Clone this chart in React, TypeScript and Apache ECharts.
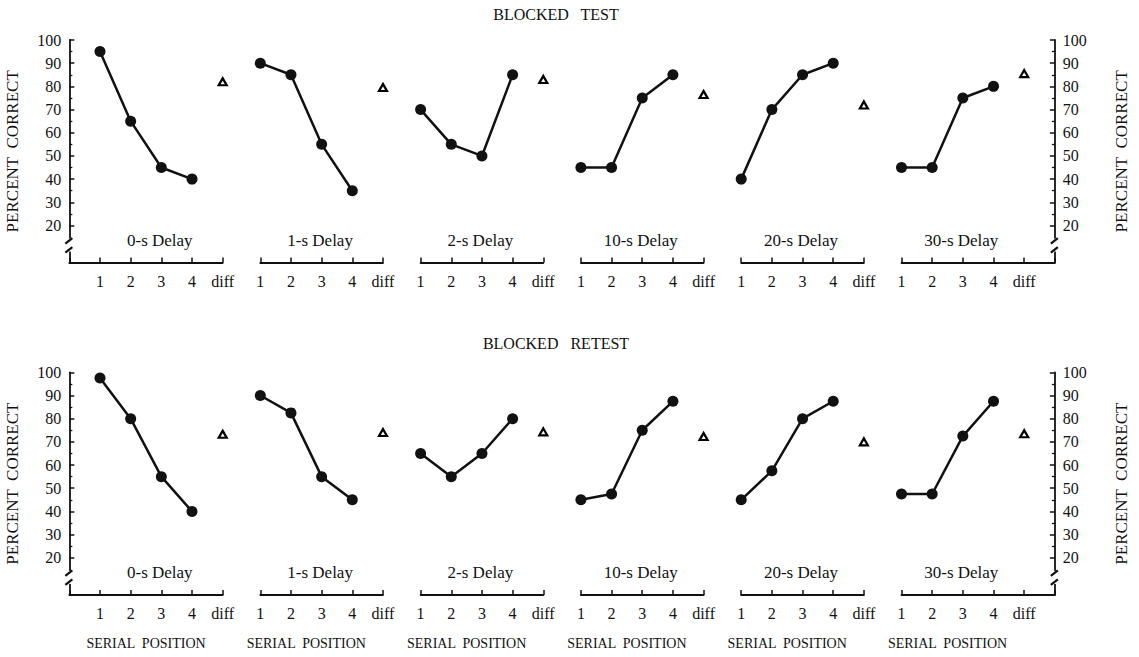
import { useEffect, useRef } from "react";
import * as echarts from "echarts";

// Serial positions 1-4 plus the "diff" condition at x = 5
const positions = [1, 2, 3, 4];
const diffPosition = 5;
const positionLabels = ["1", "2", "3", "4", "diff"];
const delayLabels = ["0-s Delay", "1-s Delay", "2-s Delay", "10-s Delay", "20-s Delay", "30-s Delay"];

// Percent correct, blocked test
const testSerial = [
  [95, 65, 45, 40],
  [90, 85, 55, 35],
  [70, 55, 50, 85],
  [45, 45, 75, 85],
  [40, 70, 85, 90],
  [45, 45, 75, 80],
];
const testDiff = [82, 79.5, 83, 76.5, 72, 85.5];

// Percent correct, blocked retest
const retestSerial = [
  [97.5, 80, 55, 40],
  [90, 82.5, 55, 45],
  [65, 55, 65, 80],
  [45, 47.5, 75, 87.5],
  [45, 57.5, 80, 87.5],
  [47.5, 47.5, 72.5, 87.5],
];
const retestDiff = [73.3, 74, 74.3, 72.3, 70, 73.5];

const yTickValues = [20, 30, 40, 50, 60, 70, 80, 90, 100];
const yMinorValues = [25, 35, 45, 55, 65, 75, 85, 95];
const rowTitles = ["BLOCKED   TEST", "BLOCKED   RETEST"];
const xAxisTitle = "SERIAL  POSITION";
const yAxisTitle = "PERCENT  CORRECT";

const rows = [
  { serial: testSerial, diff: testDiff },
  { serial: retestSerial, diff: retestDiff },
];

// Layout
const FONT = "Liberation Serif, serif";
const INK = "#111111";
const FIRST_X = 100;
const PANEL_STEP = 160.3;
const UNIT = 30.67;
const ROW_TOP = [40, 372.3];
const ROW_TITLE_Y = [14, 343];
const ROW_H = 222.6;
const Y_MIN = 4;
const Y_MAX = 100;
const PANELS = 6;

export default function App() {
  const ref = useRef<HTMLDivElement>(null);

  useEffect(() => {
    if (!ref.current) return;
    const chart = echarts.init(ref.current, null, { renderer: "svg" });

    const grids: any[] = [];
    const xAxes: any[] = [];
    const yAxes: any[] = [];
    const series: any[] = [];
    const majorY: number[] = [];

    rows.forEach((row, r) => {
      for (let p = 0; p < PANELS; p++) {
        const g = r * PANELS + p;
        const xMin = p === 0 ? 0 : 1;
        const xMax = p === PANELS - 1 ? 6 : 5;
        grids.push({
          left: FIRST_X + p * PANEL_STEP + (xMin - 1) * UNIT,
          width: (xMax - xMin) * UNIT,
          top: ROW_TOP[r],
          height: ROW_H,
        });
        xAxes.push({
          gridIndex: g,
          type: "value",
          min: xMin,
          max: xMax,
          interval: 1,
          axisLine: { show: true, onZero: false, lineStyle: { color: INK, width: 1.8 } },
          axisTick: { show: true, inside: true, length: 5, lineStyle: { color: INK, width: 1.5 } },
          axisLabel: {
            margin: 11,
            color: INK,
            fontFamily: FONT,
            fontSize: 16,
            showMinLabel: true,
            showMaxLabel: true,
            formatter: (v: number) => (v >= 1 && v <= 5 ? positionLabels[v - 1] : ""),
          },
          splitLine: { show: false },
        });

        const edge = p === 0 || p === PANELS - 1;
        const side = p === 0 ? "left" : "right";
        majorY[g] = yAxes.length;
        if (edge) {
          yAxes.push({
            gridIndex: g,
            type: "value",
            min: Y_MIN,
            max: Y_MAX,
            position: side,
            axisLine: { show: true, onZero: false, lineStyle: { color: INK, width: 1.8 } },
            axisTick: { show: true, inside: true, length: 5, customValues: yTickValues, lineStyle: { color: INK, width: 1.5 } },
            axisLabel: { customValues: yTickValues, margin: 8, color: INK, fontFamily: FONT, fontSize: 16 },
            splitLine: { show: false },
            name: yAxisTitle,
            nameLocation: "middle",
            nameRotate: 90,
            nameGap: p === 0 ? 48 : 58,
            nameTextStyle: { color: INK, fontFamily: FONT, fontSize: 17 },
          });
          yAxes.push({
            gridIndex: g,
            type: "value",
            min: Y_MIN,
            max: Y_MAX,
            position: side,
            axisLine: { show: false },
            axisTick: { show: true, inside: true, length: 3, customValues: yMinorValues, lineStyle: { color: INK, width: 1.3 } },
            axisLabel: { show: false },
            splitLine: { show: false },
          });
        } else {
          yAxes.push({ gridIndex: g, type: "value", min: Y_MIN, max: Y_MAX, show: false, splitLine: { show: false } });
        }

        series.push({
          type: "line",
          xAxisIndex: g,
          yAxisIndex: majorY[g],
          data: positions.map((x, i) => [x, row.serial[p][i]]),
          symbol: "circle",
          symbolSize: 11,
          lineStyle: { color: INK, width: 2.5 },
          itemStyle: { color: INK },
          z: 3,
        });
        series.push({
          type: "scatter",
          xAxisIndex: g,
          yAxisIndex: majorY[g],
          data: [[diffPosition, row.diff[p]]],
          symbol: "triangle",
          symbolSize: [8, 7],
          itemStyle: { color: "#ffffff", borderColor: "#000000", borderWidth: 2.2, opacity: 1 },
          z: 3,
        });
      }
    });

    chart.setOption({
      animation: false,
      backgroundColor: "#ffffff",
      textStyle: { fontFamily: FONT },
      grid: grids,
      xAxis: xAxes,
      yAxis: yAxes,
      series,
    });

    // Decorations placed through the axes' own scales
    const graphic: any[] = [];
    const textStyle = (size: number) => ({ fill: INK, fontFamily: FONT, fontSize: size });
    rowTitles.forEach((t, r) => {
      graphic.push({
        type: "text",
        x: 556,
        y: ROW_TITLE_Y[r],
        style: { text: t, align: "center", verticalAlign: "middle", ...textStyle(16) },
      });
    });
    for (let r = 0; r < rows.length; r++) {
      for (let p = 0; p < PANELS; p++) {
        const g = r * PANELS + p;
        const finder = { xAxisIndex: g, yAxisIndex: majorY[g] };
        const [lx, bottom] = chart.convertToPixel(finder, [2.95, Y_MIN]) as number[];
        graphic.push({
          type: "text",
          x: lx,
          y: bottom - 22,
          style: { text: delayLabels[p], align: "center", verticalAlign: "middle", ...textStyle(17) },
        });
        if (r === rows.length - 1) {
          const [sx] = chart.convertToPixel(finder, [2.5, Y_MIN]) as number[];
          graphic.push({
            type: "text",
            x: sx,
            y: bottom + 49,
            style: { text: xAxisTitle, align: "center", verticalAlign: "middle", ...textStyle(14) },
          });
        }
        if (p === 0 || p === PANELS - 1) {
          const [ax] = chart.convertToPixel(finder, [p === 0 ? 0 : 6, Y_MIN]) as number[];
          graphic.push({
            type: "rect",
            z: 50,
            shape: { x: ax - 2.5, y: bottom - 24, width: 5, height: 13 },
            style: { fill: "#ffffff" },
          });
          [bottom - 19, bottom - 10].forEach((yy) => {
            graphic.push({
              type: "line",
              z: 51,
              shape: { x1: ax - 4, y1: yy, x2: ax + 3, y2: yy - 5.5 },
              style: { stroke: INK, lineWidth: 2.2 },
            });
          });
        }
      }
    }
    chart.setOption({ graphic });

    return () => chart.dispose();
  }, []);

  return (
    <div
      ref={ref}
      style={{ position: "fixed", left: 0, top: 0, width: 1139, height: 657, background: "#fff" }}
    />
  );
}
